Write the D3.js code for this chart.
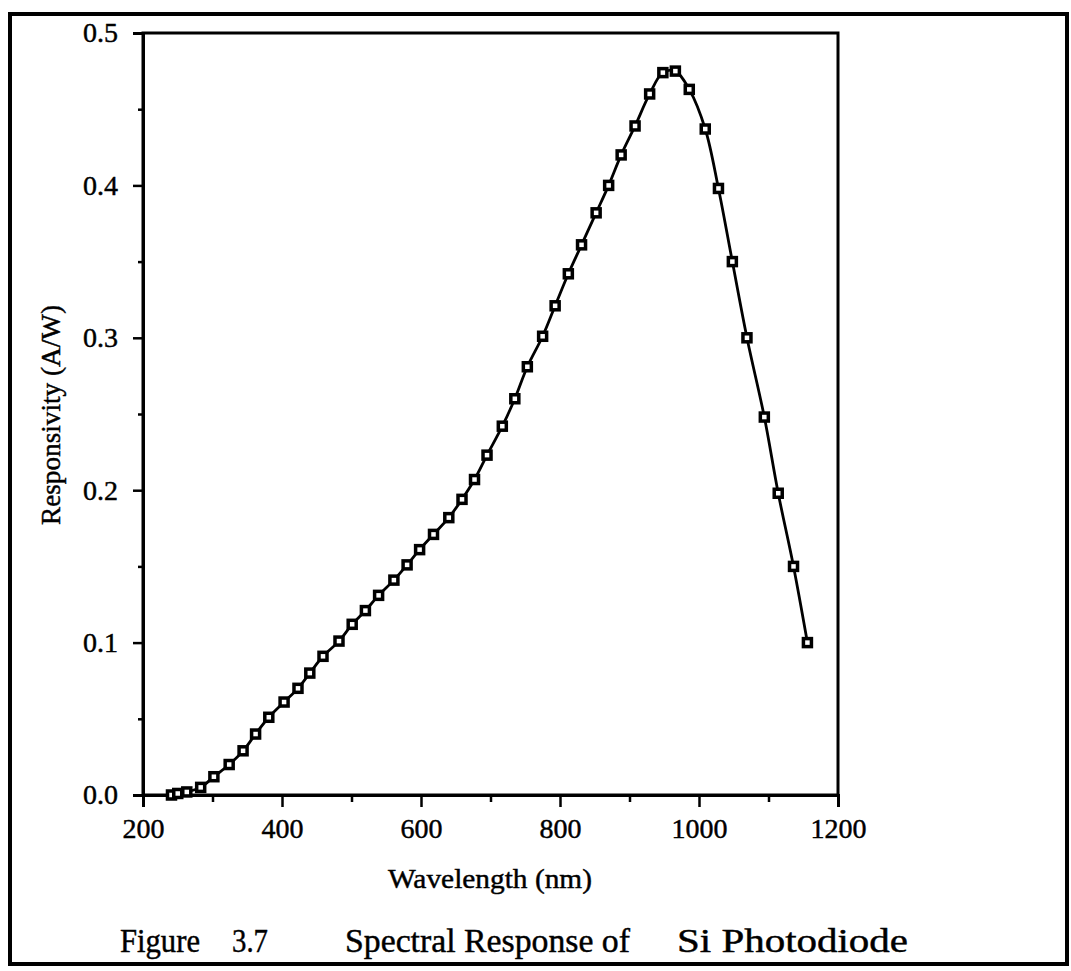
<!DOCTYPE html>
<html>
<head>
<meta charset="utf-8">
<script src="https://cdn.jsdelivr.net/npm/d3@7"></script>
<style>
  body { margin: 0; background: #fff; }
  text { font-family: "Liberation Serif", "Times New Roman", serif; fill: #000; stroke: #000; stroke-width: 0.45; }
</style>
</head>
<body>
<div id="vis"></div>
<script>
const FRAME_WIDTH = 1071;
const FRAME_HEIGHT = 971;
const PLOT = { left: 143, right: 838, top: 33, bottom: 795 };

// values
const WAVELENGTH = [241, 250, 263, 283, 302, 324, 344, 362, 381, 403, 423, 440, 459, 482, 501,
  520, 539, 561, 580, 598, 618, 640, 659, 677, 695, 717, 735, 753, 775, 793, 812, 831, 852, 870,
  888, 908, 929, 948, 966, 986, 1009, 1028, 1048, 1069, 1094, 1114, 1136, 1156];
const RESPONSIVITY = [0.000, 0.001, 0.002, 0.005, 0.012, 0.020, 0.029, 0.040, 0.051, 0.061, 0.070,
  0.080, 0.091, 0.101, 0.112, 0.121, 0.131, 0.141, 0.151, 0.161, 0.171, 0.182, 0.194, 0.207, 0.223,
  0.242, 0.260, 0.281, 0.301, 0.321, 0.342, 0.361, 0.382, 0.400, 0.420, 0.439, 0.460, 0.474, 0.475,
  0.463, 0.437, 0.398, 0.350, 0.300, 0.248, 0.198, 0.150, 0.100];

const X_TICKS = [200, 400, 600, 800, 1000, 1200];
const X_MINOR = [300, 500, 700, 900, 1100];
const Y_TICKS = [0.0, 0.1, 0.2, 0.3, 0.4, 0.5];
const Y_MINOR = [0.05, 0.15, 0.25, 0.35, 0.45];

const X_LABEL = 'Wavelength (nm)';
const Y_LABEL = 'Responsivity (A/W)';
// caption words: text, left edge, width in the scan
const CAPTION = [['Figure', 120, 80], ['3.7', 232, 36], ['Spectral Response of', 345, 285], ['Si Photodiode', 677, 231]];

function buildChart() {
  const data = WAVELENGTH.map((w, i) => ({ x: w, y: RESPONSIVITY[i] }));

  const FRAME = d3
    .select('#vis')
    .append('svg')
    .attr('width', FRAME_WIDTH)
    .attr('height', FRAME_HEIGHT);

  // outer page border
  FRAME.append('rect')
    .attr('x', 10)
    .attr('y', 14)
    .attr('width', 1057)
    .attr('height', 950)
    .attr('fill', 'none')
    .attr('stroke', '#000')
    .attr('stroke-width', 4);

  const X_SCALE = d3.scaleLinear().domain([200, 1200]).range([PLOT.left, PLOT.right]);
  const Y_SCALE = d3.scaleLinear().domain([0, 0.5]).range([PLOT.bottom, PLOT.top]);

  // plot box
  FRAME.append('rect')
    .attr('x', PLOT.left)
    .attr('y', PLOT.top)
    .attr('width', PLOT.right - PLOT.left)
    .attr('height', PLOT.bottom - PLOT.top)
    .attr('fill', 'none')
    .attr('stroke', '#000')
    .attr('stroke-width', 3);

  // x axis, major + minor
  FRAME.append('g')
    .attr('transform', 'translate(0,' + PLOT.bottom + ')')
    .call(d3.axisBottom(X_SCALE).tickValues(X_TICKS).tickSize(12).tickPadding(11).tickFormat(d3.format('d')));
  FRAME.append('g')
    .attr('transform', 'translate(0,' + PLOT.bottom + ')')
    .call(d3.axisBottom(X_SCALE).tickValues(X_MINOR).tickSize(7).tickFormat(''));

  // y axis, major + minor
  FRAME.append('g')
    .attr('transform', 'translate(' + PLOT.left + ',0)')
    .call(d3.axisLeft(Y_SCALE).tickValues(Y_TICKS).tickSize(10).tickPadding(15).tickFormat(d3.format('.1f')));
  FRAME.append('g')
    .attr('transform', 'translate(' + PLOT.left + ',0)')
    .call(d3.axisLeft(Y_SCALE).tickValues(Y_MINOR).tickSize(5).tickFormat(''));

  FRAME.selectAll('.domain').attr('stroke-width', 3);
  FRAME.selectAll('.tick line').attr('stroke-width', 2.5);
  FRAME.selectAll('.tick text')
    .attr('font-family', '"Liberation Serif", serif')
    .attr('font-size', 28);

  // responsivity curve
  const line = d3
    .line()
    .x((d) => X_SCALE(d.x))
    .y((d) => Y_SCALE(d.y))
    .curve(d3.curveCatmullRom);

  FRAME.append('path')
    .datum(data)
    .attr('d', line)
    .attr('fill', 'none')
    .attr('stroke', '#000')
    .attr('stroke-width', 2.8);

  // open square markers
  FRAME.selectAll('.point')
    .data(data)
    .enter()
    .append('rect')
    .attr('class', 'point')
    .attr('x', (d) => X_SCALE(d.x) - 4)
    .attr('y', (d) => Y_SCALE(d.y) - 4)
    .attr('width', 8)
    .attr('height', 8)
    .attr('fill', '#fff')
    .attr('stroke', '#000')
    .attr('stroke-width', 3.5);

  // axis titles
  FRAME.append('text')
    .attr('x', 388)
    .attr('y', 888)
    .attr('font-size', 28)
    .attr('textLength', 204)
    .attr('lengthAdjust', 'spacingAndGlyphs')
    .text(X_LABEL);

  FRAME.append('text')
    .attr('transform', 'translate(60,525) rotate(-90)')
    .attr('font-size', 27)
    .attr('textLength', 220)
    .attr('lengthAdjust', 'spacingAndGlyphs')
    .text(Y_LABEL);

  // figure caption
  const caption = FRAME.append('text')
    .attr('y', 952)
    .attr('font-size', 34);
  caption.selectAll('tspan')
    .data(CAPTION)
    .enter()
    .append('tspan')
    .attr('x', (d) => d[1])
    .attr('textLength', (d) => d[2])
    .attr('lengthAdjust', 'spacingAndGlyphs')
    .text((d) => d[0]);
}

buildChart();
</script>
</body>
</html>
